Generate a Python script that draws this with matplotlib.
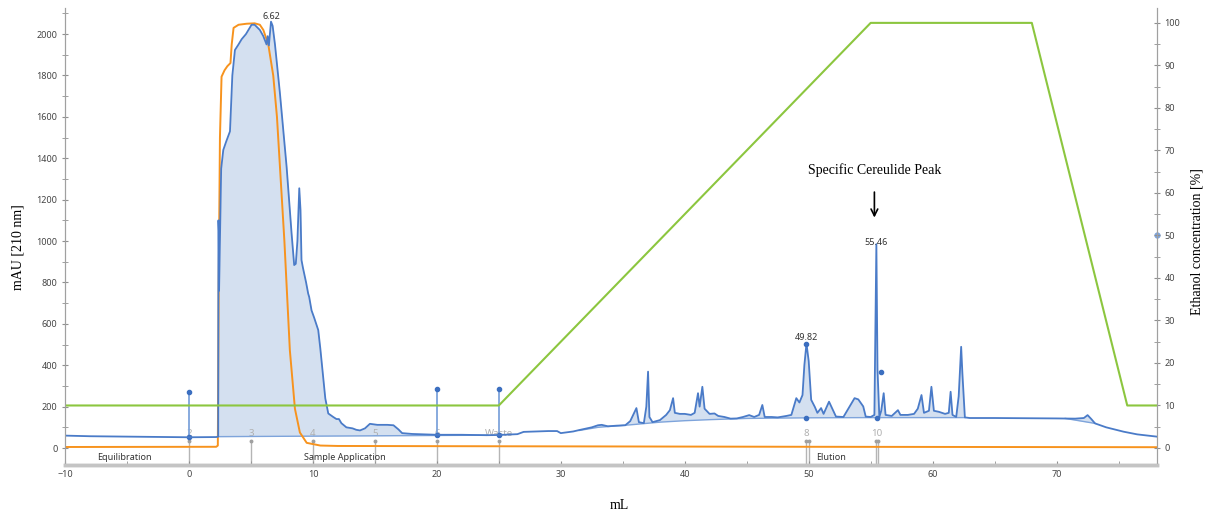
import numpy as np
import matplotlib
matplotlib.use('Agg')
import matplotlib.pyplot as plt
from matplotlib.ticker import MultipleLocator

plt.rcParams['font.family'] = ['Noto Sans', 'DejaVu Sans']

# UV 210 nm trace
uv_ml = [-10, -8, -5, 0, 2.2, 2.36, 2.38, 2.41, 2.43, 2.5, 2.6, 2.77, 3.0, 3.31, 3.5, 3.71, 4.0,
         4.25, 4.6, 5.05, 5.3, 5.72, 6.0, 6.26, 6.35, 6.45, 6.62, 6.75, 6.94, 7.34, 7.88, 8.28,
         8.49, 8.62, 8.75, 8.9, 9.0, 9.08, 9.2, 9.35, 9.45, 9.62, 9.7, 9.89, 10.1, 10.43, 10.6,
         10.83, 11.0, 11.24, 11.64, 11.9, 12.1, 12.3, 12.7, 13.2, 13.5, 13.8, 14.2, 14.6, 15.2,
         16.0, 16.5, 16.9, 17.2, 18, 19.4, 20, 22, 24, 25, 26.5, 27, 28, 29, 29.7, 30, 31, 31.5,
         32.5, 33.0, 33.3, 33.8, 34.5, 35.2, 35.6, 36.1, 36.3, 36.7, 36.9, 37.04, 37.15, 37.4,
         38.0, 38.5, 38.8, 39.06, 39.2, 39.6, 40.0, 40.5, 40.8, 41.07, 41.2, 41.42, 41.6, 42.0,
         42.4, 42.7, 43.2, 43.7, 44.2, 44.7, 45.2, 45.6, 46.0, 46.26, 46.45, 47, 47.5, 48.2, 48.6,
         49.0, 49.25, 49.5, 49.65, 49.82, 50.0, 50.2, 50.5, 50.7, 51.0, 51.2, 51.64, 51.9, 52.2,
         52.8, 53.2, 53.7, 54.0, 54.4, 54.6, 55.0, 55.3, 55.46, 55.55, 55.7, 55.85, 56.05, 56.2,
         56.7, 57.2, 57.4, 58.0, 58.5, 58.8, 59.1, 59.3, 59.7, 59.9, 60.1, 60.5, 61.0, 61.3,
         61.45, 61.6, 61.9, 62.1, 62.3, 62.4, 62.6, 63, 65, 68, 70, 71.5, 72.2, 72.5, 72.8, 73.1,
         74.0, 75.4, 76.5, 78.1]
uv_mau = [60, 57, 55, 52, 53, 55, 1100, 1050, 760, 1000, 1350, 1440, 1480, 1530, 1800, 1923, 1950,
          1975, 2000, 2045, 2045, 2020, 1990, 1950, 1990, 1945, 2060, 2040, 1950, 1714, 1358, 1037,
          884, 890, 1000, 1255, 1150, 908, 870, 827, 800, 746, 730, 665, 630, 570, 480,
          343, 240, 167, 150, 140, 140, 120, 100, 95, 88, 85, 95, 117, 112,
          112, 110, 90, 72, 68, 65, 64, 64, 62, 63, 67, 78, 80, 82, 82, 72, 80, 87,
          100, 110, 112, 105, 108, 110, 130, 193, 125, 120, 200, 369, 150, 125,
          135, 160, 183, 241, 170, 165, 165, 160, 170, 265, 200, 296, 190, 165,
          167, 155, 150, 142, 143, 150, 159, 150, 160, 208, 150, 150, 148, 155, 160,
          241, 220, 256, 400, 505, 420, 233, 198, 170, 193, 165, 224, 190, 152,
          150, 190, 241, 235, 201, 152, 150, 160, 985, 380, 150, 180, 265, 160,
          155, 183, 160, 160, 165, 190, 256, 170, 180, 296, 180, 175, 165, 170,
          272, 160, 150, 250, 489, 360, 148, 145, 145, 144, 143, 142, 145, 159, 140, 119,
          100, 79, 66, 55]

# integration baselines
base1_ml = [2.37, 24]
base1_mau = [55, 62]
base2_ml = [31.5, 33, 35.6, 38, 40, 42, 45, 50, 55, 62.6]
base2_mau = [85, 100, 112, 125, 132, 137, 143, 146, 147, 147]
base3_ml = [70.7, 73.1]
base3_mau = [143, 119]

# conductivity-like trace (orange)
cond_ml = [-10, 2.2, 2.33, 2.4, 2.5, 2.63, 2.87, 3.1, 3.35, 3.45, 3.6, 4.0, 4.65, 5.3, 5.72, 6.0,
           6.4, 6.8, 7.1, 7.7, 8.14, 8.55, 8.95, 9.5, 10.6, 12, 20, 30, 50, 78.1]
cond_mau = [5, 6, 12, 800, 1500, 1794, 1825, 1845, 1860, 1950, 2030, 2045, 2050, 2052, 2045, 2020,
            1950, 1800, 1600, 1000, 473, 190, 75, 25, 12, 10, 9, 8, 6, 4]

# ethanol gradient
eth_ml = [-10, 25, 55, 68, 75.7, 78.1]
eth_pct = [10, 10, 100, 100, 10, 10]

# fractions
frac_ml = [0, 5, 10, 15, 20, 25, 49.8, 50.0, 55.4, 55.6]
frac_lab = [(0, '2'), (5, '3'), (10, '4'), (15, '5'), (20, '6'), (25, 'Waste'), (49.8, '8'), (55.5, '10')]

# events (blue pins)
event_ml = [0, 20, 25]
event_top = [272, 285, 285]
event_bot = [52, 64, 63]

peaks = [(6.62, 2065, '6.62'), (49.82, 512, '49.82'), (55.46, 970, '55.46')]
peak_dots = [(49.82, 505), (49.82, 146), (55.8, 369), (55.5, 147)]

phases = [(-5.2, 'Equilibration'), (12.6, 'Sample Application'), (51.8, 'Elution')]

blue = '#4a7bc8'
fillc = '#d4e0f0'
orange = '#f7931e'
green = '#8cc63f'

fig = plt.figure(figsize=(12.07, 5.14), dpi=100)
ax = fig.add_axes([65/1207, 1-465/514, 1092/1207, 457/514])
ax2 = ax.twinx()

x = np.array(uv_ml)
y = np.array(uv_mau)
for bx, by in [(base1_ml, base1_mau), (base2_ml, base2_mau), (base3_ml, base3_mau)]:
    m = (x >= bx[0]) & (x <= bx[-1])
    xs = np.concatenate([[bx[0]], x[m], [bx[-1]]])
    ys = np.interp(xs, x, y)
    bs = np.interp(xs, bx, by)
    ax.fill_between(xs, bs, ys, where=ys >= bs, interpolate=True, color=fillc, lw=0, zorder=1)
    ax.plot(bx, by, color='#7ea4db', lw=1.0, zorder=2)

# fraction marks
for f in frac_ml:
    ax.plot([f, f], [-82, 34], color='#b5b5b5', lw=1.0, zorder=1.5)
    ax.plot([f], [34], marker='o', ms=1.8, color='#a0a0a0', zorder=1.5)
for f, t in frac_lab:
    ax.text(f, 72, t, color='#b0b0b0', fontsize=7, ha='center', va='center', zorder=1.6)

for ex, et, eb in zip(event_ml, event_top, event_bot):
    ax.plot([ex, ex], [eb, et], color='#7ea4db', lw=1.3, zorder=2)
    ax.plot([ex, ex], [eb, et], ls='none', marker='o', ms=3, color='#3c6fc0', zorder=2.5)

ax.plot(cond_ml, cond_mau, color=orange, lw=1.4, zorder=3)
ax.plot(uv_ml, uv_mau, color=blue, lw=1.3, zorder=4)
for px, py in peak_dots:
    ax.plot([px], [py], marker='o', ms=3, color='#3c6fc0', zorder=5)
ax.plot([78.1], [1030], marker='o', ms=3.5, color='#7ea4db', clip_on=False, zorder=5)

for px, py, t in peaks:
    ax.text(px, py, t, fontsize=6.5, color='#333333', ha='center', va='bottom', zorder=6)
for px, t in phases:
    ax.text(px, -45, t, fontsize=6.5, color='#333333', ha='center', va='center')

ax.text(55.3, 1343, 'Specific Cereulide Peak', family='Liberation Serif', fontsize=10,
        ha='center', va='center')
ax.annotate('', xy=(55.3, 1100), xytext=(55.3, 1250),
            arrowprops=dict(arrowstyle='->', color='black', lw=1.2, mutation_scale=12))

ax2.plot(eth_ml, eth_pct, color=green, lw=1.5)

ax.set_xlim(-10, 78.1)
ax.set_ylim(-82, 2126)
ax2.set_ylim(-4, 103.5)

ax.xaxis.set_major_locator(MultipleLocator(10))
ax.xaxis.set_minor_locator(MultipleLocator(5))
ax.yaxis.set_major_locator(MultipleLocator(200))
ax.yaxis.set_minor_locator(MultipleLocator(100))
ax2.yaxis.set_major_locator(MultipleLocator(10))
ax2.yaxis.set_minor_locator(MultipleLocator(5))

for a in (ax, ax2):
    a.spines['top'].set_visible(False)
    a.spines['left'].set_color('#a0a0a0')
    a.spines['right'].set_color('#a0a0a0')
    a.spines['bottom'].set_color('#c4c4c4')
    a.spines['bottom'].set_linewidth(2.5)
ax.tick_params(axis='both', which='both', colors='#909090', labelcolor='#444444', labelsize=6.5)
ax.tick_params(axis='y', which='both', direction='inout', length=4)
ax.tick_params(axis='x', which='both', direction='in', length=3)
ax2.tick_params(axis='y', which='both', direction='inout', length=4, colors='#909090',
                labelcolor='#444444', labelsize=6.5)

ax.set_ylabel('mAU [210 nm]', family='Liberation Serif', fontsize=10)
ax.yaxis.set_label_coords(-0.0375, 0.477)
ax2.set_ylabel('Ethanol concentration [%]', family='Liberation Serif', fontsize=10)
ax2.yaxis.set_label_coords(1.031, 0.49)
ax.set_xlabel('mL', family='Liberation Serif', fontsize=10)
ax.xaxis.set_label_coords(0.508, -0.074)

fig.savefig('out.png', dpi=100)
